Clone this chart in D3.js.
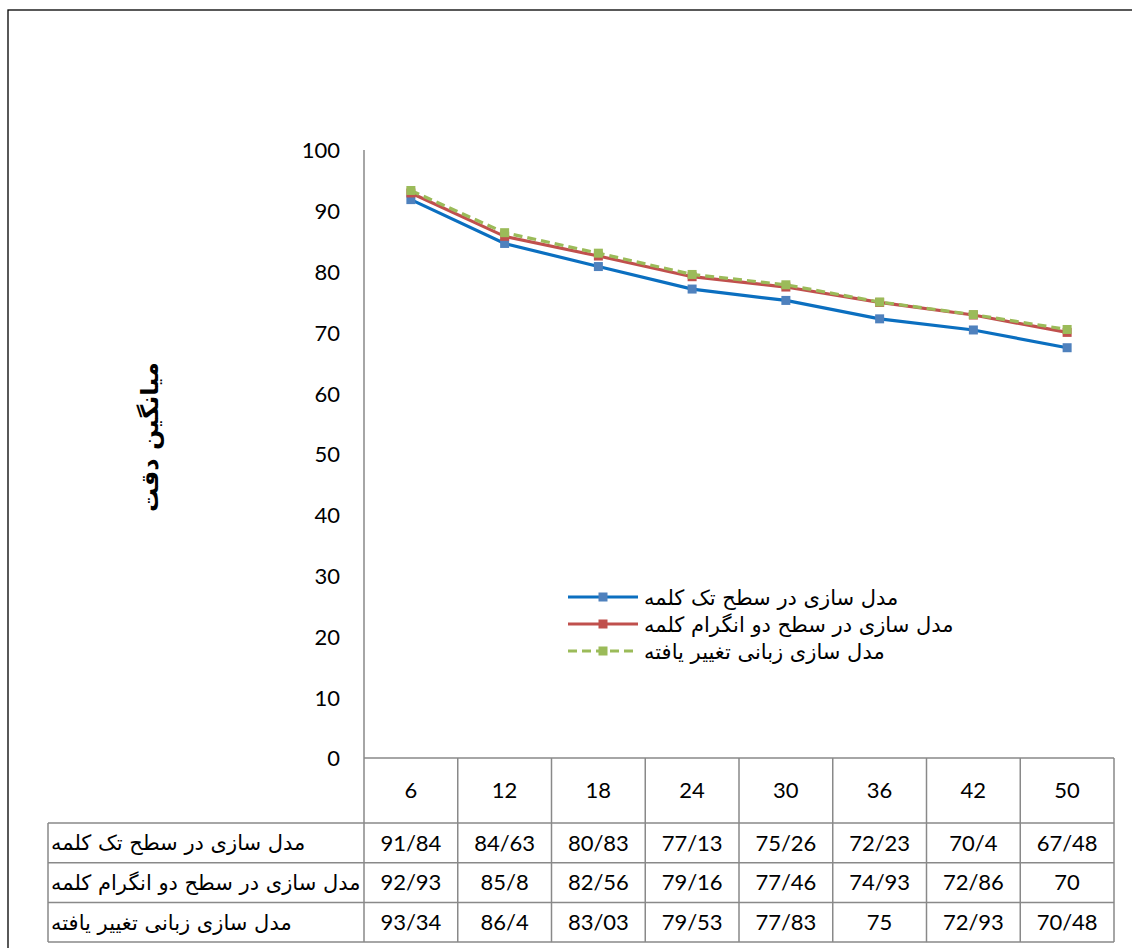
<!DOCTYPE html>
<html>
<head>
<meta charset="utf-8">
<script src="https://cdn.jsdelivr.net/npm/d3@7"></script>
<style>
  html, body { margin: 0; padding: 0; background: #fff; }
  svg { display: block; }
  .num { font-family: Lato, "Open Sans", sans-serif; fill: #000; }
  .fa { font-family: "DejaVu Sans", "Noto Sans", sans-serif; fill: #000; }
</style>
</head>
<body>
<svg id="chart" width="1132" height="948"></svg>
<script>
// Sample sizes along the x axis
const categories = ["6", "12", "18", "24", "30", "36", "42", "50"];

// Series names (Persian)
const seriesNames = [
  "مدل سازی در سطح تک کلمه",
  "مدل سازی در سطح دو انگرام کلمه",
  "مدل سازی زبانی تغییر یافته"
];

// Mean accuracy per series
const singleWord = [91.84, 84.63, 80.83, 77.13, 75.26, 72.23, 70.4, 67.48];
const bigramWord = [92.93, 85.8, 82.56, 79.16, 77.46, 74.93, 72.86, 70];
const modifiedLM = [93.34, 86.4, 83.03, 79.53, 77.83, 75, 72.93, 70.48];

const yTicks = [0, 10, 20, 30, 40, 50, 60, 70, 80, 90, 100];
const yTitle = "میانگین دقت";

const seriesValues = [singleWord, bigramWord, modifiedLM];
const seriesStyle = [
  { line: "#0B6FC0", marker: "#4F81BD", dash: null },
  { line: "#C0504D", marker: "#C0504D", dash: null },
  { line: "#9BBB59", marker: "#9BBB59", dash: "9,5" }
];

// Values in the data table use "/" as the decimal separator
const fmt = v => String(v).replace(".", "/");

const svg = d3.select("#chart");

// Outer chart frame
svg.append("rect")
  .attr("x", 8).attr("y", 10).attr("width", 1400).attr("height", 1200)
  .attr("fill", "none").attr("stroke", "#000").attr("stroke-width", 1.3);

const plot = { left: 364, right: 1114, top: 150, bottom: 758 };
const table = { labelLeft: 48, headerBottom: 823, rowH: 39.7 };

const x = d3.scaleBand().domain(categories).range([plot.left, plot.right]);
const y = d3.scaleLinear().domain([0, 100]).range([plot.bottom, plot.top]);

// Vertical axis
const yAxis = svg.append("g")
  .attr("transform", `translate(${plot.left},0)`)
  .call(d3.axisLeft(y).tickValues(yTicks).tickSize(0).tickPadding(24));
yAxis.select(".domain").remove();
yAxis.selectAll("text").attr("class", "num").attr("font-size", 22).attr("dy", "0.36em");

const gridColor = "#898989";

// Axis line extended down through the header row
svg.append("line")
  .attr("x1", plot.left).attr("x2", plot.left)
  .attr("y1", plot.top).attr("y2", table.headerBottom)
  .attr("stroke", gridColor).attr("stroke-width", 1.5);

// Axis title
svg.append("text")
  .attr("class", "fa")
  .attr("transform", `translate(158,437) rotate(-90)`)
  .attr("text-anchor", "middle")
  .attr("font-size", 24).attr("font-weight", "bold")
  .text(yTitle);

// Data table
const rowTop = i => table.headerBottom + i * table.rowH;
const tableBottom = rowTop(seriesNames.length);
const tg = svg.append("g");

// horizontal rules
tg.append("line").attr("x1", plot.left).attr("x2", plot.right)
  .attr("y1", plot.bottom).attr("y2", plot.bottom)
  .attr("stroke", gridColor).attr("stroke-width", 1.5);
for (let i = 0; i <= seriesNames.length; i++) {
  tg.append("line").attr("x1", table.labelLeft).attr("x2", plot.right)
    .attr("y1", rowTop(i)).attr("y2", rowTop(i))
    .attr("stroke", gridColor).attr("stroke-width", 1.5);
}
// vertical rules
categories.forEach(c => {
  tg.append("line").attr("x1", x(c) + x.bandwidth()).attr("x2", x(c) + x.bandwidth())
    .attr("y1", plot.bottom).attr("y2", tableBottom)
    .attr("stroke", gridColor).attr("stroke-width", 1.5);
});
tg.append("line").attr("x1", plot.left).attr("x2", plot.left)
  .attr("y1", table.headerBottom).attr("y2", tableBottom)
  .attr("stroke", gridColor).attr("stroke-width", 1.5);
tg.append("line").attr("x1", table.labelLeft).attr("x2", table.labelLeft)
  .attr("y1", table.headerBottom).attr("y2", tableBottom)
  .attr("stroke", gridColor).attr("stroke-width", 1.5);

// header labels
tg.selectAll("text.head").data(categories).join("text")
  .attr("class", "num head")
  .attr("x", d => x(d) + x.bandwidth() / 2)
  .attr("y", (plot.bottom + table.headerBottom) / 2)
  .attr("dy", "0.36em").attr("text-anchor", "middle").attr("font-size", 22)
  .text(d => d);

// series rows
seriesNames.forEach((name, i) => {
  const cy = rowTop(i) + table.rowH / 2;
  tg.append("text").attr("class", "fa")
    .attr("x", table.labelLeft + 3).attr("y", cy).attr("dy", "0.36em")
    .attr("font-size", 21).text(name);
  tg.selectAll(null).data(seriesValues[i]).join("text")
    .attr("class", "num")
    .attr("x", (d, j) => x(categories[j]) + x.bandwidth() / 2)
    .attr("y", cy).attr("dy", "0.36em").attr("text-anchor", "middle")
    .attr("font-size", 22)
    .text(d => fmt(d));
});

// Lines and markers
const line = d3.line()
  .x((d, j) => x(categories[j]) + x.bandwidth() / 2)
  .y(d => y(d));

seriesValues.forEach((vals, i) => {
  const st = seriesStyle[i];
  const g = svg.append("g");
  g.append("path").datum(vals)
    .attr("d", line).attr("fill", "none")
    .attr("stroke", st.line).attr("stroke-width", 3.2)
    .attr("stroke-dasharray", st.dash);
  g.selectAll("rect").data(vals).join("rect")
    .attr("x", (d, j) => x(categories[j]) + x.bandwidth() / 2 - 4.5)
    .attr("y", d => y(d) - 4.5)
    .attr("width", 9).attr("height", 9)
    .attr("fill", st.marker);
});

// Legend
const legendRows = [597, 624, 651];
const lg = svg.append("g");
seriesNames.forEach((name, i) => {
  const st = seriesStyle[i];
  const yy = legendRows[i];
  lg.append("line").attr("x1", 568).attr("x2", 638).attr("y1", yy).attr("y2", yy)
    .attr("stroke", st.line).attr("stroke-width", 3.2)
    .attr("stroke-dasharray", st.dash);
  lg.append("rect").attr("x", 598.5).attr("y", yy - 4.5).attr("width", 9).attr("height", 9)
    .attr("fill", st.marker);
  lg.append("text").attr("class", "fa")
    .attr("x", 644).attr("y", yy).attr("dy", "0.36em")
    .attr("font-size", 21).text(name);
});
</script>
</body>
</html>
